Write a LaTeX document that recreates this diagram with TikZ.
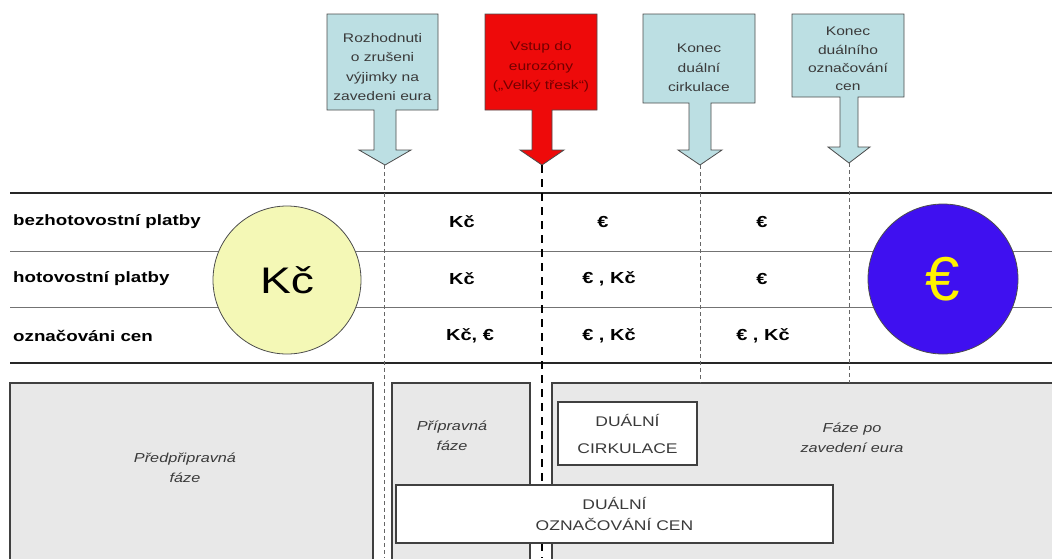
\documentclass[tikz,border=0pt]{standalone}
\usepackage{fontspec}
\setmainfont{Liberation Sans}[FakeStretch=1.25]
\newfontfamily\plainsans{Liberation Sans}
\definecolor{cblue}{HTML}{BCDFE3}
\definecolor{cred}{HTML}{EE0A0A}
\definecolor{cyellow}{HTML}{F4F8B6}
\definecolor{eblue}{HTML}{3F10F0}
\definecolor{boxgray}{HTML}{E8E8E8}
\definecolor{txtgray}{HTML}{3A3A3A}
\begin{document}
\begin{tikzpicture}[x=1pt,y=-1pt,
  callshape/.style={draw=black!70, line width=0.8pt, line join=miter},
  calltext/.style={text=txtgray, font=\fontsize{12.5}{19.5}\selectfont, align=center, inner sep=0pt},
  rowlabel/.style={anchor=west, font=\fontsize{15}{18}\selectfont\bfseries, inner sep=0pt},
  cell/.style={font=\fontsize{16}{18}\selectfont\bfseries, inner sep=0pt},
  thickrule/.style={draw=black!85, line width=1.8pt},
  thinrule/.style={draw=black!55, line width=0.8pt},
  thindash/.style={draw=black!60, line width=0.8pt, dash pattern=on 4pt off 3pt},
  bigdash/.style={draw=black, line width=2.6pt, dash pattern=on 8pt off 6pt},
  phasebox/.style={fill=boxgray, draw=black!75, line width=1.2pt},
  phasetext/.style={text=txtgray, font=\fontsize{13}{20}\selectfont\itshape, align=center, inner sep=0pt},
  whitebox/.style={fill=white, draw=black!75, line width=1.2pt, text=txtgray, align=center, inner sep=0pt}
]
\useasboundingbox (0,0) rectangle (1052,558);
\clip (0,0) rectangle (1052,558);

% ---- callouts ----
\draw[callshape, fill=cblue] (327,14) -- (438,14) -- (438,110) -- (396,110) -- (396,150) -- (411,150) -- (385,165) -- (359,150) -- (374,150) -- (374,110) -- (327,110) -- cycle;
\node[calltext] (c1) at (382.5,67) {Rozhodnuti\\o zrušeni\\výjimky na\\zavedeni eura};
\coordinate (t1) at (384,165);
\coordinate (b1) at (384,558);

\draw[callshape, fill=cred] (485,14) -- (597,14) -- (597,110) -- (552,110) -- (552,150) -- (564,150) -- (542,165) -- (520,150) -- (532,150) -- (532,110) -- (485,110) -- cycle;
\node[calltext, text=red!45!black] (c2) at (541,67) {Vstup do\\eurozóny\\(„Velký třesk“)};
\coordinate (t2) at (542,165);
\coordinate (b2) at (542,558);

\draw[callshape, fill=cblue] (643,14) -- (755,14) -- (755,103) -- (711,103) -- (711,150) -- (722,150) -- (700,165) -- (678,150) -- (689,150) -- (689,103) -- (643,103) -- cycle;
\node[calltext] (c3) at (699,68) {Konec\\duální\\cirkulace};
\coordinate (t3) at (700,165);
\coordinate (b3) at (700,383);

\draw[callshape, fill=cblue] (792,14) -- (904,14) -- (904,97) -- (858,97) -- (858,147) -- (870,147) -- (849,163) -- (828,147) -- (840,147) -- (840,97) -- (792,97) -- cycle;
\node[calltext, font=\fontsize{12.5}{18.3}\selectfont] (c4) at (848,59) {Konec\\duálního\\označování\\cen};
\coordinate (t4) at (849,163);
\coordinate (b4) at (849,383);

% ---- table rules ----
\draw[thickrule] (10,193) -- (1052,193);
\draw[thinrule] (10,251) -- (1052,251);
\draw[thinrule] (10,307) -- (1052,307);
\draw[thickrule] (10,363) -- (1052,363);

% ---- phase boxes ----
\draw[phasebox] (10,383) rectangle (373,570);
\draw[phasebox] (392,383) rectangle (530,570);
\draw[phasebox] (552,383) rectangle (1070,570);

% ---- dashed time lines ----
\draw[thindash] (t1) -- (b1);
\draw[bigdash] (t2) -- (b2);
\draw[thindash] (t3) -- (b3);
\draw[thindash] (t4) -- (b4);

\node[phasetext] (p1) at (185,468) {Předpřipravná\\fáze};
\node[phasetext] (p2) at (452,436) {Přípravná\\fáze};
\node[phasetext] (p3) at (852,438) {Fáze po\\zavedení eura};

\node[whitebox, minimum width=139pt, minimum height=63pt, font=\fontsize{14}{27}\selectfont] (dc) at (627.5,433.5) {DUÁLNÍ\\CIRKULACE};
\node[whitebox, minimum width=437pt, minimum height=58pt, font=\fontsize{14}{21}\selectfont] (dz) at (614.5,514) {DUÁLNÍ\\OZNAČOVÁNÍ CEN};

% ---- circles ----
\node[circle, fill=cyellow, draw=black!70, line width=0.8pt, minimum size=148pt, inner sep=0pt, font=\fontsize{37}{37}\selectfont] (kc) at (287,280) {Kč};
\node[circle, fill=eblue, draw=black!70, line width=0.8pt, minimum size=150pt, inner sep=0pt, text=yellow, font=\plainsans\fontsize{62}{62}\selectfont] (eu) at (943,279) {€};

% ---- row labels ----
\node[rowlabel] (r1) at (13,222) {bezhotovostní platby};
\node[rowlabel] (r2) at (13,279) {hotovostní platby};
\node[rowlabel] (r3) at (13,336) {označováni cen};

% ---- cells ----
\node[cell] (a1) at (462,222) {Kč};
\node[cell] (a2) at (462,279) {Kč};
\node[cell] (a3) at (470,336) {Kč, €};
\node[cell] (b1c) at (603,222) {€};
\node[cell] (b2c) at (609,279) {€ , Kč};
\node[cell] (b3c) at (609,336) {€ , Kč};
\node[cell] (d1) at (762,222) {€};
\node[cell] (d2) at (762,279) {€};
\node[cell] (d3) at (763,336) {€ , Kč};
\end{tikzpicture}
\end{document}
